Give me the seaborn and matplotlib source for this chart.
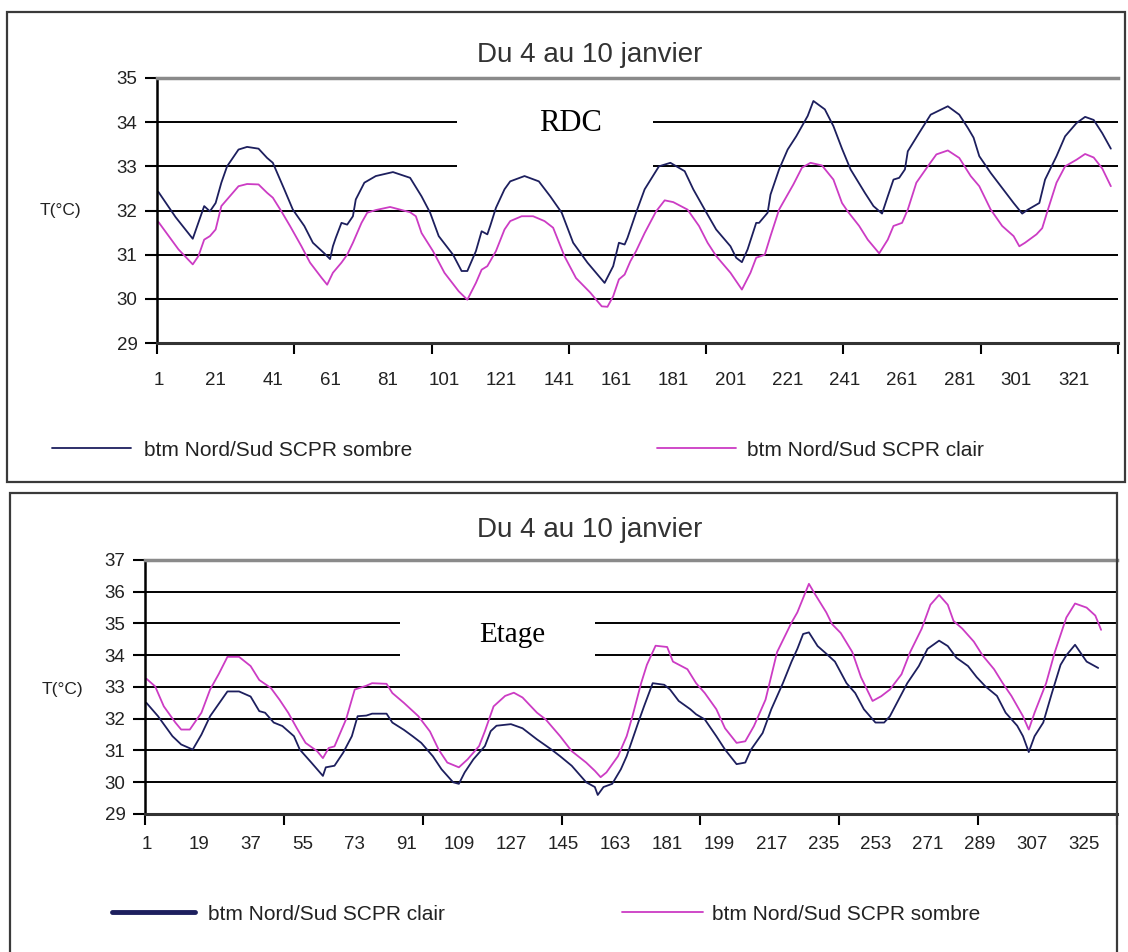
import matplotlib
matplotlib.use("Agg")
import matplotlib.pyplot as plt
import seaborn as sns
from matplotlib.patches import Rectangle

# ── Data (index = half-hour step) ──────────────────────────────────────────
rdc_x_sombre = [1, 7, 13, 17, 19, 21, 23, 25, 29, 32, 36, 39, 41, 43, 45, 48, 52, 55, 59, 61,
                62, 63, 65, 67, 69, 70, 73, 77, 83, 89, 93, 96, 99, 104, 107, 109, 112, 114, 116, 117,
                119, 122, 124, 129, 134, 138, 142, 146, 151, 157, 160, 162, 164, 165, 168, 171, 176, 180, 185, 188,
                192, 196, 201, 203, 205, 207, 210, 211, 214, 215, 218, 221, 224, 228, 230, 234, 237, 240, 243, 248,
                251, 254, 256, 258, 260, 262, 263, 267, 271, 277, 281, 284, 286, 288, 292, 296, 300, 303, 305, 309,
                311, 315, 318, 322, 325, 328, 331, 334]
rdc_sombre = [32.42, 31.85, 31.36, 32.10, 31.98, 32.17, 32.63, 33.00, 33.38, 33.44, 33.40, 33.19, 33.08, 32.78, 32.48, 32.02, 31.65, 31.27, 31.03, 30.90,
              31.19, 31.38, 31.72, 31.68, 31.87, 32.25, 32.63, 32.78, 32.87, 32.74, 32.32, 31.95, 31.42, 31.00, 30.63, 30.63, 31.08, 31.53, 31.46, 31.65,
              32.06, 32.48, 32.66, 32.78, 32.66, 32.32, 31.95, 31.27, 30.82, 30.36, 30.74, 31.27, 31.23, 31.38, 31.95, 32.48, 33.00, 33.08, 32.89, 32.48,
              32.02, 31.57, 31.19, 30.93, 30.83, 31.12, 31.72, 31.72, 31.95, 32.36, 32.93, 33.38, 33.68, 34.14, 34.48, 34.29, 33.91, 33.40, 32.93, 32.40,
              32.10, 31.93, 32.32, 32.70, 32.74, 32.93, 33.34, 33.76, 34.17, 34.36, 34.17, 33.87, 33.65, 33.23, 32.85, 32.51, 32.17, 31.93, 32.02, 32.17,
              32.70, 33.23, 33.68, 33.98, 34.12, 34.05, 33.75, 33.40]

rdc_x_clair = [1, 8, 13, 15, 17, 19, 21, 23, 25, 29, 32, 36, 39, 41, 44, 47, 51, 54, 58, 60,
               62, 65, 67, 69, 72, 74, 77, 82, 89, 91, 93, 97, 101, 106, 109, 112, 114, 116, 119, 122,
               124, 128, 132, 136, 139, 143, 147, 152, 156, 158, 160, 162, 164, 166, 168, 171, 175, 178, 181, 186,
               190, 193, 196, 201, 205, 208, 210, 213, 215, 218, 223, 226, 229, 233, 237, 240, 242, 246, 249, 253,
               256, 258, 261, 263, 266, 270, 273, 277, 281, 285, 288, 292, 296, 300, 302, 304, 308, 310, 312, 315,
               318, 322, 325, 328, 331, 334]
rdc_clair = [31.74, 31.12, 30.78, 30.97, 31.34, 31.42, 31.57, 32.10, 32.25, 32.55, 32.60, 32.59, 32.40, 32.29, 31.98, 31.65, 31.19, 30.82, 30.48, 30.32,
             30.59, 30.82, 31.00, 31.27, 31.72, 31.95, 32.01, 32.08, 31.96, 31.87, 31.49, 31.08, 30.59, 30.17, 29.98, 30.36, 30.66, 30.74, 31.08, 31.57,
             31.76, 31.87, 31.87, 31.76, 31.61, 30.96, 30.47, 30.14, 29.83, 29.82, 30.06, 30.44, 30.55, 30.85, 31.08, 31.49, 31.98, 32.23, 32.19, 32.02,
             31.65, 31.27, 30.97, 30.59, 30.21, 30.59, 30.93, 31.00, 31.42, 32.02, 32.59, 32.97, 33.08, 33.02, 32.70, 32.17, 31.98, 31.65, 31.34, 31.03,
             31.34, 31.65, 31.72, 32.02, 32.63, 33.00, 33.27, 33.36, 33.19, 32.78, 32.55, 32.02, 31.65, 31.42, 31.19, 31.27, 31.46, 31.60, 32.02, 32.63,
             33.00, 33.15, 33.28, 33.20, 32.95, 32.55]

etage_x_clair = [1, 5, 10, 13, 17, 20, 23, 27, 29, 33, 37, 40, 42, 45, 48, 52, 54, 58, 62, 63,
                 66, 69, 72, 74, 77, 79, 84, 86, 90, 93, 96, 100, 103, 107, 109, 111, 114, 118, 120, 122,
                 127, 131, 136, 141, 144, 148, 153, 156, 157, 159, 162, 165, 167, 171, 173, 176, 180, 182, 185, 189,
                 191, 194, 198, 201, 205, 208, 210, 214, 217, 221, 224, 226, 228, 230, 233, 236, 239, 243, 246, 249,
                 253, 256, 258, 261, 264, 268, 271, 275, 278, 281, 285, 288, 291, 295, 298, 302, 304, 306, 308, 311,
                 314, 317, 319, 322, 326, 330]
etage_clair = [32.50, 32.08, 31.45, 31.19, 31.03, 31.50, 32.08, 32.60, 32.86, 32.86, 32.70, 32.24, 32.19, 31.88, 31.77, 31.45, 31.03, 30.62, 30.20, 30.47,
               30.52, 30.93, 31.45, 32.08, 32.10, 32.16, 32.16, 31.88, 31.65, 31.45, 31.24, 30.82, 30.41, 30.00, 29.95, 30.31, 30.72, 31.14, 31.61, 31.78,
               31.83, 31.70, 31.35, 31.03, 30.82, 30.52, 30.00, 29.85, 29.60, 29.85, 29.95, 30.41, 30.82, 31.88, 32.39, 33.12, 33.07, 32.92, 32.56, 32.30,
               32.14, 31.98, 31.45, 31.03, 30.57, 30.62, 31.03, 31.55, 32.30, 33.12, 33.80, 34.20, 34.67, 34.72, 34.29, 34.05, 33.80, 33.12, 32.81, 32.30,
               31.88, 31.88, 32.08, 32.60, 33.12, 33.66, 34.20, 34.46, 34.29, 33.92, 33.66, 33.31, 33.02, 32.72, 32.19, 31.78, 31.45, 30.95, 31.45, 31.88,
               32.81, 33.70, 34.00, 34.33, 33.80, 33.60]

etage_x_sombre = [1, 4, 7, 11, 13, 16, 20, 23, 26, 29, 33, 37, 40, 44, 47, 50, 53, 56, 60, 62,
                  64, 66, 70, 73, 77, 79, 84, 86, 90, 95, 99, 102, 105, 109, 112, 116, 118, 121, 125, 128,
                  131, 136, 139, 144, 148, 153, 156, 158, 160, 164, 167, 169, 172, 174, 177, 181, 183, 188, 191, 194,
                  198, 201, 205, 208, 211, 215, 219, 224, 226, 230, 232, 236, 238, 241, 245, 248, 252, 255, 258, 262,
                  265, 269, 272, 275, 278, 280, 283, 287, 290, 294, 297, 300, 304, 306, 308, 312, 315, 319, 322, 326,
                  329, 331]
etage_sombre = [33.26, 33.02, 32.39, 31.88, 31.66, 31.66, 32.19, 32.92, 33.41, 33.95, 33.95, 33.66, 33.22, 32.97, 32.60, 32.19, 31.70, 31.24, 30.98, 30.76,
                31.08, 31.13, 31.98, 32.92, 33.04, 33.12, 33.10, 32.81, 32.50, 32.08, 31.60, 31.03, 30.62, 30.47, 30.72, 31.14, 31.61, 32.39, 32.72, 32.82,
                32.67, 32.19, 31.98, 31.45, 30.98, 30.62, 30.36, 30.16, 30.31, 30.82, 31.45, 32.08, 33.12, 33.70, 34.30, 34.26, 33.80, 33.56, 33.12, 32.81,
                32.30, 31.70, 31.24, 31.29, 31.77, 32.60, 34.10, 35.03, 35.35, 36.25, 35.94, 35.35, 34.98, 34.70, 34.10, 33.31, 32.56, 32.71, 32.92, 33.40,
                34.10, 34.84, 35.59, 35.90, 35.59, 35.08, 34.84, 34.43, 34.00, 33.56, 33.12, 32.72, 32.08, 31.66, 32.19, 33.12, 34.10, 35.19, 35.63, 35.50,
                35.25, 34.80]

title = "Du 4 au 10 janvier"
lab_sombre = "btm Nord/Sud SCPR sombre"
lab_clair = "btm Nord/Sud SCPR clair"
rdc_xticks = list(range(1, 322, 20))
etage_xticks = list(range(1, 326, 18))
day_edges = [0.5 + 48 * k for k in range(8)]

NAVY = "#1d1f5e"
PINK = "#cc3cc4"
INK = "#222222"

sns.set_theme(style="white")
plt.rcParams["font.family"] = ["Liberation Sans", "DejaVu Sans"]

W, H = 1128, 952
fig = plt.figure(figsize=(W / 100, H / 100), dpi=100)


def px_rect(x0, y0, x1, y1):
    return [x0 / W, 1 - y1 / H, (x1 - x0) / W, (y1 - y0) / H]


def style_axis(ax, ylim, xlim, xticks, xpad, ylab_xy):
    ax.set_ylim(*ylim)
    ax.set_xlim(*xlim)
    ax.set_yticks(range(ylim[0], ylim[1] + 1))
    ax.set_xticks(xticks)
    ax.set_xticks(day_edges, minor=True)
    ax.tick_params(axis="x", which="major", length=0, pad=xpad, labelsize=13.5, labelcolor=INK)
    ax.tick_params(axis="x", which="minor", bottom=True, length=8, width=1.5, color="black", direction="out")
    ax.tick_params(axis="y", left=True, length=9, width=1.5, color="black", direction="out",
                   pad=5, labelsize=13.5, labelcolor=INK)
    ax.grid(axis="y", color="black", lw=1.4)
    ax.grid(axis="x", visible=False)
    ax.set_axisbelow(True)
    ax.spines["right"].set_visible(False)
    ax.spines["top"].set_color("#8a8a8a")
    ax.spines["top"].set_linewidth(2.5)
    ax.spines["left"].set_color("black")
    ax.spines["left"].set_linewidth(1.8)
    ax.spines["bottom"].set_color("#333333")
    ax.spines["bottom"].set_linewidth(2.2)
    ax.set_xlabel("")
    ax.set_ylabel("T(°C)", rotation=0, fontsize=12.5, color=INK)
    ax.yaxis.set_label_coords(*ylab_xy)


# panel frames
fig.add_artist(Rectangle((7 / W, 1 - 482 / H), 1118 / W, 470 / H, transform=fig.transFigure,
                         fill=False, ec="#3a3a3a", lw=1.6))
fig.add_artist(Rectangle((10 / W, 1 - 970 / H), 1107 / W, 477 / H, transform=fig.transFigure,
                         fill=False, ec="#3a3a3a", lw=1.6))

# ── RDC panel ────────────────────────────────────────────────────────────────
ax1 = fig.add_axes(px_rect(157, 78, 1118, 343))
sns.lineplot(x=rdc_x_sombre, y=rdc_sombre, ax=ax1, color=NAVY, lw=1.3, label=lab_sombre, legend=False)
sns.lineplot(x=rdc_x_clair, y=rdc_clair, ax=ax1, color=PINK, lw=1.3, label=lab_clair, legend=False)
style_axis(ax1, (29, 35), (0.5, 333), rdc_xticks, 21, (-0.10, 0.47))
ax1.add_patch(Rectangle((0.312, 0.58), 0.204, 0.34, transform=ax1.transAxes,
                        fc="white", ec="none", zorder=1.5))
ax1.text(0.43, 0.83, "RDC", transform=ax1.transAxes, ha="center", va="center",
         fontsize=22, family="Liberation Serif", color="black", zorder=3)
fig.text(590 / W, 1 - 55 / H, title, ha="center", va="center", fontsize=20, color="#333333")

h1 = ax1.get_lines()
leg = fig.legend([h1[0]], [lab_sombre], loc="center left", bbox_to_anchor=(52 / W, 1 - 450 / H),
                 frameon=False, fontsize=15, handlelength=3.8, handletextpad=0.6,
                 borderpad=0, borderaxespad=0, labelcolor=INK)
leg = fig.legend([h1[1]], [lab_clair], loc="center left", bbox_to_anchor=(657 / W, 1 - 450 / H),
                 frameon=False, fontsize=15, handlelength=3.8, handletextpad=0.5,
                 borderpad=0, borderaxespad=0, labelcolor=INK)

# ── Etage panel ──────────────────────────────────────────────────────────────
ax2 = fig.add_axes(px_rect(145, 560, 1117, 814))
sns.lineplot(x=etage_x_clair, y=etage_clair, ax=ax2, color=NAVY, lw=1.3, label=lab_clair, legend=False)
sns.lineplot(x=etage_x_sombre, y=etage_sombre, ax=ax2, color=PINK, lw=1.3, label=lab_sombre, legend=False)
style_axis(ax2, (29, 37), (0.5, 331), etage_xticks, 16, (-0.085, 0.46))
ax2.add_patch(Rectangle((0.262, 0.567), 0.201, 0.256, transform=ax2.transAxes,
                        fc="white", ec="none", zorder=1.5))
ax2.text(0.378, 0.705, "Etage", transform=ax2.transAxes, ha="center", va="center",
         fontsize=21, family="Liberation Serif", color="black", zorder=3)
fig.text(590 / W, 1 - 530 / H, title, ha="center", va="center", fontsize=20, color="#333333")

h2 = ax2.get_lines()
leg = fig.legend([h2[0]], [lab_clair], loc="center left", bbox_to_anchor=(112 / W, 1 - 914 / H),
                 frameon=False, fontsize=15, handlelength=4.0, handletextpad=0.6,
                 borderpad=0, borderaxespad=0, labelcolor=INK)
leg.legend_handles[0].set_linewidth(3.5)
leg = fig.legend([h2[1]], [lab_sombre], loc="center left", bbox_to_anchor=(622 / W, 1 - 914 / H),
                 frameon=False, fontsize=15, handlelength=3.9, handletextpad=0.4,
                 borderpad=0, borderaxespad=0, labelcolor=INK)

fig.savefig("out.png", dpi=100)
plt.close(fig)
